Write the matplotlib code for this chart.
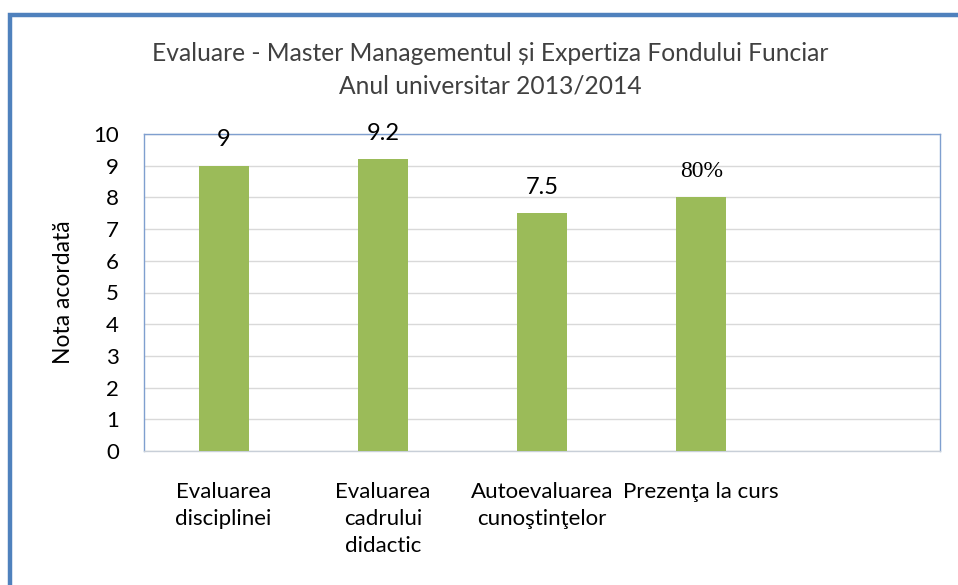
import matplotlib
matplotlib.use("Agg")
import matplotlib.pyplot as plt
from matplotlib.patches import Rectangle
from matplotlib.font_manager import FontProperties, findfont

categories = ["Evaluarea\ndisciplinei", "Evaluarea\ncadrului\ndidactic",
              "Autoevaluarea\ncunoştinţelor", "Prezenţa la curs", ""]
values = [9, 9.2, 7.5, 8]
value_labels = ["9", "9.2", "7.5", "80%"]
yticks = list(range(0, 11))
title = "Evaluare - Master Managementul și Expertiza Fondului Funciar\nAnul universitar 2013/2014"
ylabel = "Nota acordată"

W, H = 958, 585
fig = plt.figure(figsize=(W / 100, H / 100), dpi=100)
fig.patch.set_facecolor("white")

# outer blue frame (left and top visible)
fig.patches.append(Rectangle((10 / W, -0.1), 1.2, (H - 15) / H + 0.1,
                             transform=fig.transFigure, fill=False,
                             edgecolor="#4F81BD", linewidth=3.2, zorder=0))

ax = fig.add_axes([144 / W, 1 - 451 / H, (940 - 144) / W, (451 - 134) / H])
x = list(range(len(categories)))
ax.bar(x[:len(values)], values, width=0.315, color="#9BBB59", zorder=3)
ax.set_xlim(-0.5, len(categories) - 0.5)
ax.set_ylim(0, 10)
ax.set_yticks(yticks)
ax.set_yticklabels([str(t) for t in yticks], fontsize=16, family="Lato")
ax.tick_params(axis="y", length=0, pad=18)
ax.set_xticks(x)
ax.set_xticklabels(categories, fontsize=16, family="Lato", linespacing=1.45,
                   va="top")
ax.tick_params(axis="x", length=0, pad=22)
ax.grid(axis="y", color="#D9D9D9", linewidth=1, zorder=0)
ax.set_axisbelow(True)
for s in ["left", "top", "right"]:
    ax.spines[s].set_color("#7F9FCF")
    ax.spines[s].set_linewidth(1)
ax.spines["bottom"].set_color("#C8CFD8")
ax.spines["bottom"].set_linewidth(1)

serif_path = findfont(FontProperties(family=["Liberation Serif", "DejaVu Serif"]))
serif_fp = FontProperties(fname=serif_path, size=17)
sans_fp = FontProperties(family="Lato", size=17)

for i, (v, lab) in enumerate(zip(values, value_labels)):
    fp = serif_fp if "%" in lab else sans_fp
    ax.annotate(lab, (i, v), xytext=(0, 11), textcoords="offset points",
                ha="center", va="bottom", fontproperties=fp, zorder=4)

ax.set_ylabel(ylabel, fontsize=16.5, family="Lato", labelpad=14)
fig.text(490 / W, 1 - 70 / H, title, ha="center", va="center",
         fontsize=17.7, family="Lato", color="#404040", linespacing=1.5)

fig.savefig("out.png", dpi=100)
